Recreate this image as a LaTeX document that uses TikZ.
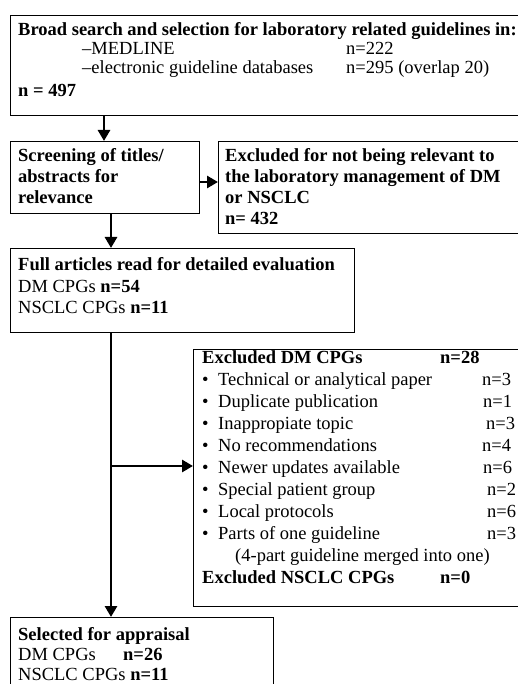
\documentclass[tikz,border=0pt]{standalone}
\usepackage{fontspec}
\setmainfont{Liberation Serif}
\usetikzlibrary{arrows.meta}
\tikzset{
  box/.style={draw, line width=1.3pt, anchor=north west, inner sep=0pt},
  txt/.style={anchor=base west, inner sep=0pt, font=\fontsize{18.5}{20}\selectfont},
  arr/.style={line width=2.8pt, -{Triangle[length=11pt,width=12pt]}},
}
\begin{document}
\begin{tikzpicture}[x=1pt,y=-1pt]
\useasboundingbox (0,0) rectangle (518,684);
\clip (0,0) rectangle (518,684);
\fill[white] (0,0) rectangle (518,684);
% boxes
\node[box, minimum width=530pt, minimum height=100pt] (top) at (10,15) {};
\node[box, minimum width=189pt, minimum height=72pt] (screen) at (10,141) {};
\node[box, minimum width=320pt, minimum height=92pt] (excl1) at (218,141) {};
\node[box, minimum width=344pt, minimum height=84pt] (full) at (10,248) {};
\node[box, minimum width=340pt, minimum height=257pt] (excl2) at (193,349) {};
\node[box, minimum width=263pt, minimum height=100pt] (sel) at (10,617) {};
% top text
\node[txt] (t1) at (18,36) {\textbf{Broad search and selection for laboratory related guidelines in:}};
\node[txt] (t2) at (82,55) {--MEDLINE};
\node[txt] (t3) at (346,55) {n=222};
\node[txt] (t4) at (82,74) {--electronic guideline databases};
\node[txt] (t5) at (346,74) {n=295 (overlap 20)};
\node[txt] (t6) at (18,97) {\textbf{n = 497}};
% screening
\node[txt] (s1) at (18,162) {\textbf{Screening of titles/}};
\node[txt] (s2) at (18,183) {\textbf{abstracts for}};
\node[txt] (s3) at (18,204) {\textbf{relevance}};
% excluded 1
\node[txt] (e1) at (225,162) {\textbf{Excluded for not being relevant to}};
\node[txt] (e2) at (225,183) {\textbf{the laboratory management of DM}};
\node[txt] (e3) at (225,204) {\textbf{or NSCLC}};
\node[txt] (e4) at (225,225) {\textbf{n= 432}};
% full
\node[txt] (f1) at (18,270) {\textbf{Full articles read for detailed evaluation}};
\node[txt] (f2) at (18,292) {DM CPGs \textbf{n=54}};
\node[txt] (f3) at (18,313) {NSCLC CPGs \textbf{n=11}};
% excluded 2
\node[txt] (x0) at (202,363) {\textbf{Excluded DM CPGs}};
\node[txt] (x0n) at (440,363) {\textbf{n=28}};
\foreach \i/\t/\nx/\nv in {1/Technical or analytical paper/482/3,
  2/Duplicate publication/483/1,
  3/Inappropiate topic/486/3,
  4/No recommendations/482/4,
  5/Newer updates available/483/6,
  6/Special patient group/487/2,
  7/Local protocols/487/6,
  8/Parts of one guideline/487/3}{
  \node[txt] (xb\i) at (202,{363+22*\i}) {\textbullet};
  \node[txt] (xi\i) at (218,{363+22*\i}) {\t};
  \node[txt] (xn\i) at (\nx,{363+22*\i}) {n=\nv};
}
\node[txt] (x9) at (235,561) {(4-part guideline merged into one)};
\node[txt] (x10) at (202,583) {\textbf{Excluded NSCLC CPGs}};
\node[txt] (x10n) at (440,583) {\textbf{n=0}};
% selected
\node[txt] (p1) at (18,640) {\textbf{Selected for appraisal}};
\node[txt] (p2) at (18,660) {DM CPGs};
\node[txt] (p2n) at (123,660) {\textbf{n=26}};
\node[txt] (p3) at (18,680) {NSCLC CPGs \textbf{n=11}};
% connectors
\coordinate (ca) at (104,0);
\coordinate (cb) at (111,0);
\coordinate (cc) at (0,182);
\coordinate (br) at (111,466);
\draw[arr] (top.south -| ca) -- (screen.north -| ca);
\draw[arr] (screen.east |- cc) -- (excl1.west |- cc);
\draw[arr] (screen.south -| cb) -- (full.north -| cb);
\draw[arr] (full.south -| cb) -- (sel.north -| cb);
\draw[arr] (br) -- (br -| excl2.west);
\end{tikzpicture}
\end{document}
